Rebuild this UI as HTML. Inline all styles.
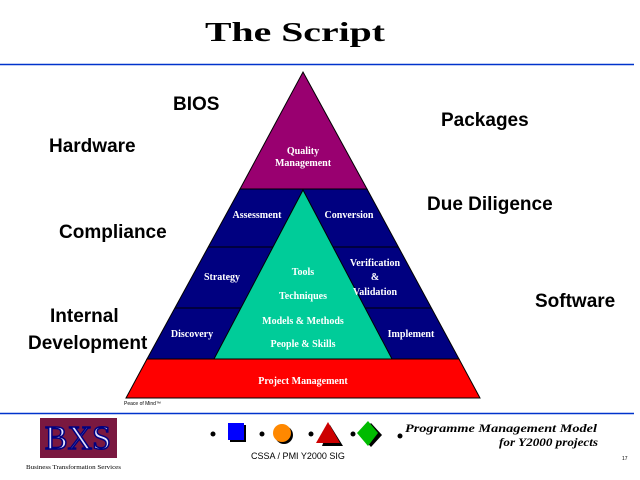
<!DOCTYPE html>
<html><head><style>
html,body{margin:0;padding:0;background:#fff;}
svg{display:block;}
.side{font-family:"Liberation Sans",sans-serif;font-weight:bold;font-size:19px;fill:#000;}
.w{font-family:"Liberation Serif",serif;font-weight:bold;font-size:10px;fill:#fff;text-anchor:middle;}
</style></head><body>
<svg width="640" height="480" viewBox="0 0 640 480" xmlns="http://www.w3.org/2000/svg">
<text x="205" y="41" textLength="180" lengthAdjust="spacingAndGlyphs" font-family="Liberation Serif,serif" font-weight="bold" font-size="27">The Script</text>
<line x1="0" y1="64.5" x2="634" y2="64.5" stroke="#0033cc" stroke-width="1.5"/>
<line x1="0" y1="413.5" x2="634" y2="413.5" stroke="#0033cc" stroke-width="1.5"/>
<polygon points="240,189 367,189 459,359 147,359" fill="#000080" stroke="#000" stroke-width="1"/>
<polygon points="303,72 367,189 240,189" fill="#990070" stroke="#000" stroke-width="1"/>
<line x1="208" y1="247" x2="273" y2="247" stroke="#000"/>
<line x1="333" y1="247" x2="398" y2="247" stroke="#000"/>
<line x1="175" y1="308" x2="241" y2="308" stroke="#000"/>
<line x1="365" y1="308" x2="431" y2="308" stroke="#000"/>
<polygon points="303,190 392,359 214,359" fill="#00cc99" stroke="#000" stroke-width="1"/>
<polygon points="147,359 459,359 480,398 126,398" fill="#ff0000" stroke="#000" stroke-width="1"/>
<text class="w" x="303" y="154">Quality</text>
<text class="w" x="303" y="166">Management</text>
<text class="w" x="257" y="218">Assessment</text>
<text class="w" x="349" y="218">Conversion</text>
<text class="w" x="222" y="280">Strategy</text>
<text class="w" x="375" y="266">Verification</text>
<text class="w" x="375" y="280">&amp;</text>
<text class="w" x="375" y="295">Validation</text>
<text class="w" x="192" y="337">Discovery</text>
<text class="w" x="411" y="337">Implement</text>
<text class="w" x="303" y="275">Tools</text>
<text class="w" x="303" y="299">Techniques</text>
<text class="w" x="303" y="324">Models &amp; Methods</text>
<text class="w" x="303" y="347">People &amp; Skills</text>
<text class="w" x="303" y="384">Project Management</text>
<text x="124" y="405" font-family="Liberation Sans,sans-serif" font-size="5">Peace of Mind™</text>
<text class="side" x="173" y="110">BIOS</text>
<text class="side" x="49" y="152">Hardware</text>
<text class="side" x="59" y="238">Compliance</text>
<text class="side" x="50" y="322">Internal</text>
<text class="side" x="28" y="349">Development</text>
<text class="side" x="441" y="126">Packages</text>
<text class="side" x="427" y="210">Due Diligence</text>
<text class="side" x="535" y="307">Software</text>
<rect x="40" y="418" width="77" height="40" fill="#7a1840"/>
<text x="78" y="449" text-anchor="middle" font-family="Liberation Serif,serif" font-size="34" fill="#e0e0ff" stroke="#000080" stroke-width="1.5">BXS</text>
<text x="26" y="469" textLength="95" lengthAdjust="spacingAndGlyphs" font-family="Liberation Serif,serif" font-size="6">Business Transformation Services</text>
<circle cx="213" cy="434" r="2.5" fill="#000"/>
<rect x="230" y="425" width="16" height="17" fill="#000"/>
<rect x="228" y="423" width="16" height="17" fill="#0000ff"/>
<circle cx="262" cy="434" r="2.5" fill="#000"/>
<circle cx="284" cy="435" r="9" fill="#000"/>
<circle cx="282" cy="433" r="9" fill="#ff8800"/>
<circle cx="311" cy="434" r="2.5" fill="#000"/>
<polygon points="330,425 343,446 322,446" fill="#000"/>
<polygon points="328,422 340,443 316,443" fill="#cc0000"/>
<circle cx="353" cy="434" r="2.5" fill="#000"/>
<polygon points="371,423 382,435 371,447 360,435" fill="#000"/>
<polygon points="368,421 378,433 368,446 357,433" fill="#00bb00"/>
<circle cx="400" cy="436" r="2.5" fill="#000"/>
<text x="298" y="459" text-anchor="middle" font-family="Liberation Sans,sans-serif" font-size="9">CSSA / PMI Y2000 SIG</text>
<text x="405" y="432" textLength="192" lengthAdjust="spacingAndGlyphs" font-family="Liberation Serif,serif" font-style="italic" font-weight="bold" font-size="12">Programme Management Model</text>
<text x="499" y="446" textLength="99" lengthAdjust="spacingAndGlyphs" font-family="Liberation Serif,serif" font-style="italic" font-weight="bold" font-size="12">for Y2000 projects</text>
<text x="622" y="460" font-family="Liberation Sans,sans-serif" font-size="5">17</text>
</svg>
</body></html>
